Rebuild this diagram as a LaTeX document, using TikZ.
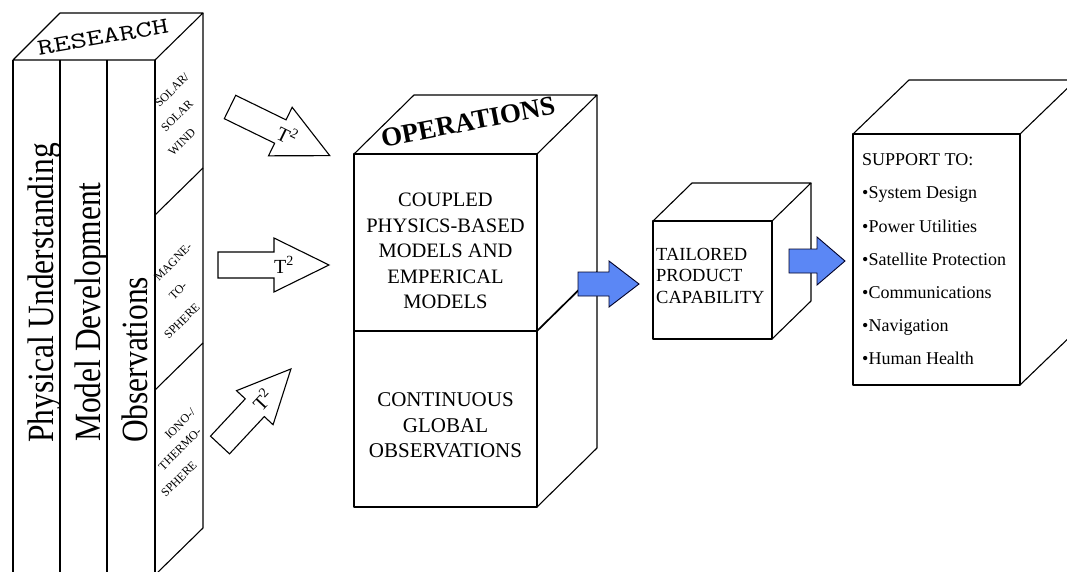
\documentclass[tikz,border=0pt]{standalone}
\usepackage{fontspec}
\setmainfont{Liberation Serif}
\usepackage{graphicx}
\usepackage{xcolor}
\usetikzlibrary{positioning}

\definecolor{arrowblue}{RGB}{91,135,245}
\newcommand{\fsz}[2]{\fontsize{#1}{#2}\selectfont}

\begin{document}
\begin{tikzpicture}[x=1pt,y=-1pt,
    box/.style={line width=1.1pt, line join=round},
    hollowarrow/.style={draw, fill=white, line width=1.1pt, line join=miter},
    bluearrow/.style={draw=black!85!blue, fill=arrowblue, line width=0.9pt},
    coltext/.style={rotate=90, anchor=base west, inner sep=0pt, font=\fsz{37}{40}},
    facetext/.style={rotate=45, inner sep=0pt, font=\fsz{12}{14}},
    tlabel/.style={inner sep=0pt, font=\fsz{20}{24}, transform shape}]
  \useasboundingbox (0,0) rectangle (1067,572);
  \clip (0,0) rectangle (1067,572);

  % Research column block
  \draw[box] (13,60) -- (60,13) -- (203,13) -- (155,60) -- cycle;
  \draw[box] (203,13) -- (203,528) -- (155,575);
  \foreach \x in {13,60,107,155}
    \draw[box] (\x,60) -- (\x,575);
  \draw[box] (155,215) -- (203,168);
  \draw[box] (155,390) -- (203,343);
  \node[rotate=10, inner sep=0pt, font=\ttfamily\fsz{23}{25}] (research) at (103,37) {\scalebox{1.4}[1]{RESEARCH}};
  \node[coltext] (physical) at (53,443) {\scalebox{0.85}[1]{Physical Understanding}};
  \node[coltext] (model) at (100,442) {\scalebox{0.85}[1]{Model Development}};
  \node[coltext] (obs) at (147,443) {\scalebox{0.85}[1]{Observations}};

  % side face labels
  \node[facetext] (solarA) at (172,90) {SOLAR/};
  \node[facetext] (solarB) at (177,116) {SOLAR};
  \node[facetext] (solarC) at (182,142) {WIND};
  \node[facetext] (magneA) at (173,262) {MAGNE-};
  \node[facetext] (magneB) at (178,291) {TO-};
  \node[facetext] (magneC) at (182,321) {SPHERE};
  \node[facetext] (ionoA) at (180,424) {IONO-/};
  \node[facetext] (ionoB) at (180,449) {THERMO-};
  \node[facetext] (ionoC) at (179,479) {SPHERE};

  % T^2 transfer arrows
  \begin{scope}[shift={(230,107)}, rotate=-26]
    \draw[hollowarrow] (0,-13) -- (56,-13) -- (56,-27) -- (111,0) -- (56,27) -- (56,13) -- (0,13) -- cycle;
    \node[tlabel] (tsolar) at (64,0) {T\textsuperscript{2}};
  \end{scope}
  \begin{scope}[shift={(218,265)}]
    \draw[hollowarrow] (0,-13) -- (56,-13) -- (56,-27) -- (111,0) -- (56,27) -- (56,13) -- (0,13) -- cycle;
    \node[tlabel] (tmagne) at (66,0) {T\textsuperscript{2}};
  \end{scope}
  \begin{scope}[shift={(220,445)}, rotate=47]
    \draw[hollowarrow] (0,-13) -- (51,-13) -- (51,-25) -- (104,0) -- (51,25) -- (51,13) -- (0,13) -- cycle;
    \node[tlabel] (tiono) at (62,0) {T\textsuperscript{2}};
  \end{scope}

  % Operations block
  \draw[box] (354,154) -- (414,95) -- (597,95) -- (537,154);
  \draw[box] (597,95) -- (597,448) -- (537,507);
  \draw[box] (354,154) rectangle (537,507);
  \draw[line width=1.7pt] (354,331) -- (537,331) -- (597,272);
  \node[rotate=11, inner sep=0pt, font=\bfseries\fsz{27}{30}] (ops) at (468,122) {OPERATIONS};
  \node[align=center, inner sep=0pt, font=\fsz{20.5}{25.5}] (coupled) at (445.5,251)
    {COUPLED\\PHYSICS-BASED\\MODELS AND\\EMPERICAL\\MODELS};
  \node[align=center, inner sep=0pt, font=\fsz{21}{25.5}] (global) at (445.5,425.5)
    {CONTINUOUS\\GLOBAL\\OBSERVATIONS};

  % Tailored product block
  \draw[box] (653,221) -- (692,183) -- (811,183) -- (772,221);
  \draw[box] (811,183) -- (811,301) -- (772,339);
  \draw[box] (653,221) rectangle (772,339);
  \node[anchor=west, align=left, inner sep=0pt, font=\fsz{18.5}{21.5}] (tailored) at (656,275.5)
    {TAILORED\\PRODUCT\\CAPABILITY};

  % Support block
  \draw[box] (853,134) -- (909,80) -- (1076,80) -- (1020,134);
  \draw[box] (1076,80) -- (1076,331) -- (1020,385);
  \draw[box] (853,134) rectangle (1020,385);
  \node[anchor=west, align=left, inner sep=0pt, font=\fsz{18}{33.2}] (support) at (862,259.5)
    {SUPPORT TO:\\•System Design\\•Power Utilities\\•Satellite Protection\\•Communications\\•Navigation\\•Human Health};

  % flow arrows
  \draw[bluearrow] (578,272) -- (609,272) -- (609,261) -- (639,284) -- (609,307) -- (609,296) -- (578,296) -- cycle;
  \draw[bluearrow] (789,249) -- (817,249) -- (817,237) -- (845,261) -- (817,285) -- (817,273) -- (789,273) -- cycle;
\end{tikzpicture}
\end{document}
